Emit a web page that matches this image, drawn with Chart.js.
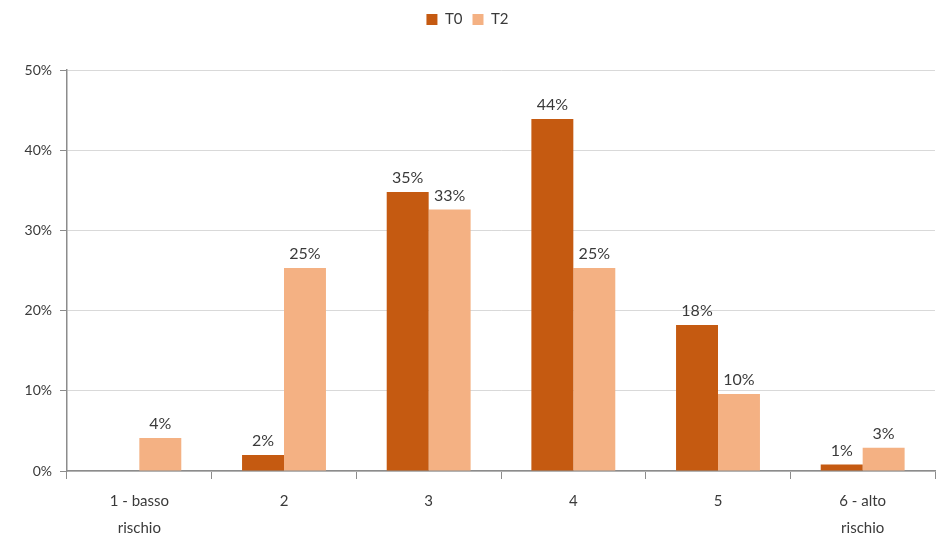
<!DOCTYPE html>
<html>
<head>
<meta charset="utf-8">
<script src="https://cdn.jsdelivr.net/npm/chart.js@4/dist/chart.umd.min.js"></script>
<style>
	html, body { margin: 0; padding: 0; background: #fff; }
	#wrap { width: 938px; height: 540px; }
</style>
</head>
<body>
<div id="wrap"><canvas id="riskChart" width="938" height="540"></canvas></div>
<script>
// risk classes and share of subjects per class, at T0 and T2
var categories = [['1 - basso', 'rischio'], '2', '3', '4', '5', ['6 - alto', 'rischio']];
var seriesNames = ['T0', 'T2'];
var valuesT0 = [0, 2.0, 34.8, 43.9, 18.2, 0.8];
var valuesT2 = [4.1, 25.3, 32.6, 25.3, 9.6, 2.9];
var yTicks = [0, 10, 20, 30, 40, 50];

var colT0 = '#C55A11';
var colT2 = '#F4B183';
var textCol = '#3a3a3a';
var fontFam = 'Lato, "Open Sans", sans-serif';

// writes the rounded percentage above each bar
var barLabels = {
	id: 'barLabels',
	afterDatasetsDraw: function(chart){
		var ctx = chart.ctx;
		ctx.save();
		ctx.font = '16px ' + fontFam;
		ctx.fillStyle = textCol;
		ctx.textAlign = 'center';
		ctx.textBaseline = 'bottom';
		chart.data.datasets.forEach(function(ds, i){
			var meta = chart.getDatasetMeta(i);
			meta.data.forEach(function(bar, j){
				var v = ds.data[j];
				if(!v) return;
				ctx.fillText(Math.round(v) + '%', bar.x, bar.y - 6);
			});
		});
		ctx.restore();
	}
};

// leaves some room between the legend and the plot
var legendGap = {
	id: 'legendGap',
	beforeLayout: function(chart){
		var lg = chart.legend;
		if(!lg || lg._gapPatched) return;
		var fit = lg.fit;
		lg.fit = function(){
			fit.call(this);
			this.height += 33;
		};
		lg._gapPatched = true;
	}
};

new Chart(document.getElementById('riskChart'), {
	type: 'bar',
	data: {
		labels: categories,
		datasets: [{
			label: seriesNames[0],
			data: valuesT0,
			backgroundColor: colT0
		}, {
			label: seriesNames[1],
			data: valuesT2,
			backgroundColor: colT2
		}]
	},
	options: {
		responsive: false,
		animation: false,
		layout: { padding: { top: 2, right: 3, left: 0, bottom: 0 } },
		datasets: {
			bar: { barPercentage: 1, categoryPercentage: 0.58 }
		},
		plugins: {
			legend: {
				position: 'top',
				labels: {
					boxWidth: 11,
					boxHeight: 11,
					padding: 10,
					color: textCol,
					font: { family: fontFam, size: 15 }
				}
			},
			tooltip: { enabled: false }
		},
		scales: {
			x: {
				afterFit: function(axis){ axis.height = 69; },
				grid: {
					display: true,
					offset: true,
					drawOnChartArea: false,
					drawTicks: true,
					tickLength: 8,
					color: '#8c8c8c'
				},
				border: { color: '#8c8c8c', width: 1.5 },
				ticks: {
					color: textCol,
					padding: 9,
					maxRotation: 0,
					font: { family: fontFam, size: 15, lineHeight: 1.8 }
				}
			},
			y: {
				min: 0,
				max: 50,
				afterBuildTicks: function(axis){
					axis.ticks = yTicks.map(function(v){ return { value: v }; });
				},
				afterFit: function(axis){ axis.width = 67; },
				grid: {
					color: '#d9d9d9',
					tickColor: '#8c8c8c',
					tickLength: 7
				},
				border: { color: '#8c8c8c', width: 1.5 },
				ticks: {
					color: textCol,
					padding: 8,
					font: { family: fontFam, size: 14 },
					callback: function(v){ return v + '%'; }
				}
			}
		}
	},
	plugins: [legendGap, barLabels]
});
</script>
</body>
</html>
